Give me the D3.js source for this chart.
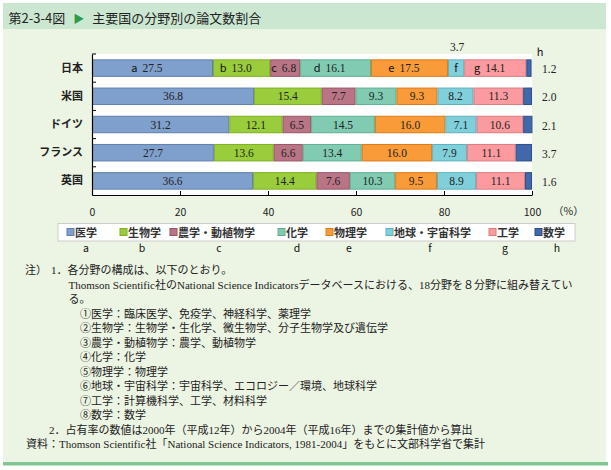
<!DOCTYPE html>
<html><head><meta charset="utf-8">
<script src="https://cdn.jsdelivr.net/npm/d3@7/dist/d3.min.js"></script>
<style>body{margin:0;background:#fff}svg{display:block}</style>
</head><body>
<script>
const countries = ["日本","米国","ドイツ","フランス","英国"];
const fields = ["医学","生物学","農学・動植物学","化学","物理学","地球・宇宙科学","工学","数学"];
const letters = ["a","b","c","d","e","f","g","h"];
const values = {
  "日本":    [27.5,13.0,6.8,16.1,17.5,3.7,14.1,1.2],
  "米国":    [36.8,15.4,7.7,9.3,9.3,8.2,11.3,2.0],
  "ドイツ":  [31.2,12.1,6.5,14.5,16.0,7.1,10.6,2.1],
  "フランス":[27.7,13.6,6.6,13.4,16.0,7.9,11.1,3.7],
  "英国":    [36.6,14.4,7.6,10.3,9.5,8.9,11.1,1.6]
};
const xTicks = [0,20,40,60,80,100];
const fills = ["#7f9fcc","#9acd3c","#b97585","#80cbb1","#f99b38","#80d0dc","#fc9b9f","#4168aa"];
const strokes = ["#5f7fae","#7fae22","#995565","#5fae92","#d97b18","#5fb0bc","#dc7b7f","#2a4f8a"];
const title = "第2-3-4図";
const titleText = "主要国の分野別の論文数割合";
const notes = [
  {x:25, line:0, t:"注）"},
  {x:51, line:0, t:"1．各分野の構成は、以下のとおり。"},
  {x:68.5, line:1, t:"Thomson Scientific社のNational Science Indicatorsデータベースにおける、18分野を８分野に組み替えてい"},
  {x:68.5, line:2, t:"る。"},
  {x:80, line:3, t:"①医学：臨床医学、免疫学、神経科学、薬理学"},
  {x:80, line:4, t:"②生物学：生物学・生化学、微生物学、分子生物学及び遺伝学"},
  {x:80, line:5, t:"③農学・動植物学：農学、動植物学"},
  {x:80, line:6, t:"④化学：化学"},
  {x:80, line:7, t:"⑤物理学：物理学"},
  {x:80, line:8, t:"⑥地球・宇宙科学：宇宙科学、エコロジー／環境、地球科学"},
  {x:80, line:9, t:"⑦工学：計算機科学、工学、材料科学"},
  {x:80, line:10, t:"⑧数学：数学"},
  {x:49, line:11, t:"2．占有率の数値は2000年（平成12年）から2004年（平成16年）までの集計値から算出"},
  {x:26, line:12, t:"資料：Thomson Scientific社「National Science Indicators, 1981-2004」をもとに文部科学省で集計"}
];

const W=611,H=470;
const svg=d3.select("body").append("svg").attr("width",W).attr("height",H);
const jp="'Noto Sans CJK JP','Noto Sans',sans-serif";
const serif="'Liberation Serif','DejaVu Serif','Noto Sans CJK JP',serif";

// background panel
svg.append("rect").attr("x",3).attr("y",3).attr("width",603).attr("height",460).attr("fill","#ecf4e3");
svg.append("rect").attr("x",3).attr("y",3).attr("width",603).attr("height",26).attr("fill","#cbe7d1");
svg.append("rect").attr("x",3).attr("y",462).attr("width",605).attr("height",3.5).attr("fill","#80c690");

// title
const tt=svg.append("text").attr("x",8.5).attr("y",22.5).attr("font-family",jp).attr("font-size",13).attr("fill","#222");
tt.append("tspan").text(title);
tt.append("tspan").attr("fill","#2e9a4c").attr("dx",8).attr("font-size",11).text("▶");
tt.append("tspan").attr("dx",8).text(titleText);

// scales
const x=d3.scaleLinear().domain([0,100]).range([92,532]);
const y=d3.scaleBand().domain(countries).range([54,195]).paddingInner(0.38).paddingOuter(0.19);

svg.append("rect").attr("x",x(0)).attr("y",54).attr("width",x(100)-x(0)).attr("height",141).attr("fill","#fff");

// bars
countries.forEach(c=>{
  const vals=values[c];
  let cum=0;
  vals.forEach((v,i)=>{
    const x0=x(cum), x1=x(cum+v);
    svg.append("rect").attr("x",x0+0.5).attr("y",y(c)+0.5).attr("width",x1-x0-1).attr("height",y.bandwidth()-1)
      .attr("fill",fills[i]).attr("stroke",strokes[i]).attr("stroke-width",1);
    const cx=(x0+x1)/2, cy=y(c)+y.bandwidth()/2+4;
    cum+=v;
    if(i===7){
      svg.append("text").attr("x",x(100)+10).attr("y",cy+1).attr("font-family",serif).attr("font-size",11.5).attr("fill","#222").text(v.toFixed(1));
      if(c==="日本") svg.append("text").attr("x",x(100)+8).attr("y",y(c)-3).attr("text-anchor","middle").attr("font-family",jp).attr("font-size",11).attr("fill","#111").text(letters[i]);
      return;
    }
    if(c==="日本" && i===5){
      svg.append("text").attr("x",cx).attr("y",cy).attr("text-anchor","middle").attr("font-family",jp).attr("font-size",11).attr("fill","#111").text(letters[i]);
      svg.append("text").attr("x",cx+1).attr("y",y(c)-8).attr("text-anchor","middle").attr("font-family",serif).attr("font-size",11.5).attr("fill","#222").text(v.toFixed(1));
      return;
    }
    const num=svg.append("text").attr("y",cy).attr("font-family",serif).attr("font-size",11.5).attr("fill","#222").text(v.toFixed(1));
    const w=num.node().getComputedTextLength();
    let start=cx-w/2;
    if(c==="日本"){
      const let_=svg.append("text").attr("y",cy).attr("font-family",jp).attr("font-size",11).attr("fill","#111").text(letters[i]);
      const lw=let_.node().getComputedTextLength();
      start=Math.max(start, x0+lw+6);
      let_.attr("x",start-5).attr("text-anchor","end");
    }
    num.attr("x",start);
  });
});

// axes
const xa=svg.append("g").attr("transform","translate(0,195)")
  .call(d3.axisBottom(x).tickValues(xTicks).tickSize(-4).tickPadding(14).tickSizeOuter(0));
xa.select(".domain").attr("stroke","#000").attr("stroke-width",1.2);
xa.selectAll(".tick line").attr("stroke","#000");
xa.selectAll("text").attr("font-family",jp).attr("font-size",10.5).attr("fill","#222");
svg.append("text").attr("x",553).attr("y",214.5).attr("font-family",jp).attr("font-size",10.5).attr("fill","#222").text("（%）");

const ya=svg.append("g").attr("transform","translate(92,0)").call(d3.axisLeft(y).tickSize(0).tickPadding(9));
ya.select(".domain").attr("stroke","#000").attr("stroke-width",1.2);
ya.selectAll("text").attr("font-family",jp).attr("font-size",11).attr("font-weight","bold").attr("fill","#222");
const bounds=[54].concat(countries.map(c=>y(c)+y.bandwidth()+y.step()*y.paddingInner()/2));
bounds.slice(0,5).forEach(b=>svg.append("line").attr("x1",92).attr("x2",96).attr("y1",b).attr("y2",b).attr("stroke","#000"));

// legend
svg.append("rect").attr("x",58).attr("y",223.5).attr("width",517).attr("height",17.5).attr("fill","#fff").attr("stroke","#ccc");
const legX=[67,120,170,278,326,386,489,535];
const letX=[86,142,219,297,349,430,505,557];
fields.forEach((f,i)=>{
  svg.append("rect").attr("x",legX[i]).attr("y",228.5).attr("width",7).attr("height",7).attr("fill",fills[i]).attr("stroke",strokes[i]);
  svg.append("text").attr("x",legX[i]+8).attr("y",236.5).attr("font-family",jp).attr("font-size",11).attr("font-weight","bold").attr("fill","#333").text(f);
  svg.append("text").attr("x",letX[i]).attr("y",252).attr("text-anchor","middle").attr("font-family",jp).attr("font-size",10.5).attr("fill","#111").text(letters[i]);
});

// notes
notes.forEach(n=>{
  svg.append("text").attr("x",n.x).attr("y",274+n.line*14.5).attr("font-family",serif).attr("font-size",11).attr("fill","#222").text(n.t);
});
</script>
</body></html>
